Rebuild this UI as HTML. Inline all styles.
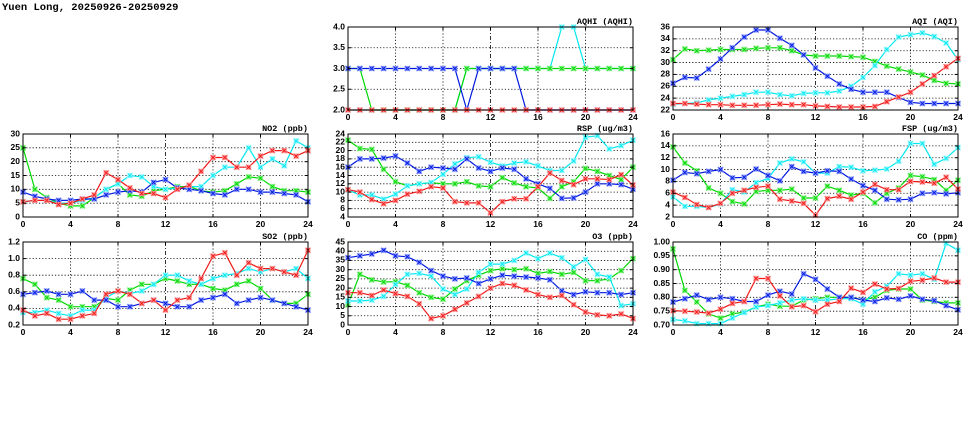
<!DOCTYPE html>
<html><head><meta charset="utf-8"><style>
html,body{margin:0;padding:0;background:#fff;width:975px;height:447px;overflow:hidden}
svg{display:block}
text{font-family:"Liberation Sans",sans-serif;font-size:8.5px;font-weight:bold;fill:#000}
.t{font-family:"Liberation Mono",monospace;font-size:8.5px}
.xl{text-anchor:middle}
.yl{text-anchor:end;dominant-baseline:middle}
.ti{text-anchor:end}
</style></head><body>
<svg id="s" width="975" height="447" viewBox="0 0 975 447">
<text x="2" y="10" style="font-family:'Liberation Mono',monospace;font-size:10.5px;font-weight:bold">Yuen Long, 20250926-20250929</text>

<g id="p0" transform="translate(348,27)"><text class="ti t" x="285" y="-3">AQHI (AQHI)</text>
<text class="yl" x="-3" y="83">2.0</text><text class="yl" x="-3" y="62.25">2.5</text><text class="yl" x="-3" y="41.5">3.0</text><text class="yl" x="-3" y="20.75">3.5</text><text class="yl" x="-3" y="0">4.0</text>
<text class="xl" x="0" y="93">0</text><text class="xl" x="47.5" y="93">4</text><text class="xl" x="95" y="93">8</text><text class="xl" x="142.5" y="93">12</text><text class="xl" x="190" y="93">16</text><text class="xl" x="237.5" y="93">20</text><text class="xl" x="285" y="93">24</text></g>

<g id="p1" transform="translate(673,27)"><text class="ti t" x="285" y="-3">AQI (AQI)</text>
<text class="yl" x="-3" y="83">22</text><text class="yl" x="-3" y="71.14">24</text><text class="yl" x="-3" y="59.29">26</text><text class="yl" x="-3" y="47.43">28</text><text class="yl" x="-3" y="35.57">30</text><text class="yl" x="-3" y="23.71">32</text><text class="yl" x="-3" y="11.86">34</text><text class="yl" x="-3" y="0">36</text>
<text class="xl" x="0" y="93">0</text><text class="xl" x="47.5" y="93">4</text><text class="xl" x="95" y="93">8</text><text class="xl" x="142.5" y="93">12</text><text class="xl" x="190" y="93">16</text><text class="xl" x="237.5" y="93">20</text><text class="xl" x="285" y="93">24</text></g>

<g id="p2" transform="translate(23,134)"><text class="ti t" x="285" y="-3">NO2 (ppb)</text>
<text class="yl" x="-3" y="83">0</text><text class="yl" x="-3" y="69.17">5</text><text class="yl" x="-3" y="55.33">10</text><text class="yl" x="-3" y="41.5">15</text><text class="yl" x="-3" y="27.67">20</text><text class="yl" x="-3" y="13.83">25</text><text class="yl" x="-3" y="0">30</text>
<text class="xl" x="0" y="93">0</text><text class="xl" x="47.5" y="93">4</text><text class="xl" x="95" y="93">8</text><text class="xl" x="142.5" y="93">12</text><text class="xl" x="190" y="93">16</text><text class="xl" x="237.5" y="93">20</text><text class="xl" x="285" y="93">24</text></g>

<g id="p3" transform="translate(348,134)"><text class="ti t" x="285" y="-3">RSP (ug/m3)</text>
<text class="yl" x="-3" y="83">4</text><text class="yl" x="-3" y="74.7">6</text><text class="yl" x="-3" y="66.4">8</text><text class="yl" x="-3" y="58.1">10</text><text class="yl" x="-3" y="49.8">12</text><text class="yl" x="-3" y="41.5">14</text><text class="yl" x="-3" y="33.2">16</text><text class="yl" x="-3" y="24.9">18</text><text class="yl" x="-3" y="16.6">20</text><text class="yl" x="-3" y="8.3">22</text><text class="yl" x="-3" y="0">24</text>
<text class="xl" x="0" y="93">0</text><text class="xl" x="47.5" y="93">4</text><text class="xl" x="95" y="93">8</text><text class="xl" x="142.5" y="93">12</text><text class="xl" x="190" y="93">16</text><text class="xl" x="237.5" y="93">20</text><text class="xl" x="285" y="93">24</text></g>

<g id="p4" transform="translate(673,134)"><text class="ti t" x="285" y="-3">FSP (ug/m3)</text>
<text class="yl" x="-3" y="83">2</text><text class="yl" x="-3" y="71.14">4</text><text class="yl" x="-3" y="59.29">6</text><text class="yl" x="-3" y="47.43">8</text><text class="yl" x="-3" y="35.57">10</text><text class="yl" x="-3" y="23.71">12</text><text class="yl" x="-3" y="11.86">14</text><text class="yl" x="-3" y="0">16</text>
<text class="xl" x="0" y="93">0</text><text class="xl" x="47.5" y="93">4</text><text class="xl" x="95" y="93">8</text><text class="xl" x="142.5" y="93">12</text><text class="xl" x="190" y="93">16</text><text class="xl" x="237.5" y="93">20</text><text class="xl" x="285" y="93">24</text></g>

<g id="p5" transform="translate(23,242)"><text class="ti t" x="285" y="-3">SO2 (ppb)</text>
<text class="yl" x="-3" y="83">0.2</text><text class="yl" x="-3" y="66.4">0.4</text><text class="yl" x="-3" y="49.8">0.6</text><text class="yl" x="-3" y="33.2">0.8</text><text class="yl" x="-3" y="16.6">1.0</text><text class="yl" x="-3" y="0">1.2</text>
<text class="xl" x="0" y="93">0</text><text class="xl" x="47.5" y="93">4</text><text class="xl" x="95" y="93">8</text><text class="xl" x="142.5" y="93">12</text><text class="xl" x="190" y="93">16</text><text class="xl" x="237.5" y="93">20</text><text class="xl" x="285" y="93">24</text></g>

<g id="p6" transform="translate(348,242)"><text class="ti t" x="285" y="-3">O3 (ppb)</text>
<text class="yl" x="-3" y="83">0</text><text class="yl" x="-3" y="73.78">5</text><text class="yl" x="-3" y="64.56">10</text><text class="yl" x="-3" y="55.33">15</text><text class="yl" x="-3" y="46.11">20</text><text class="yl" x="-3" y="36.89">25</text><text class="yl" x="-3" y="27.67">30</text><text class="yl" x="-3" y="18.44">35</text><text class="yl" x="-3" y="9.22">40</text><text class="yl" x="-3" y="0">45</text>
<text class="xl" x="0" y="93">0</text><text class="xl" x="47.5" y="93">4</text><text class="xl" x="95" y="93">8</text><text class="xl" x="142.5" y="93">12</text><text class="xl" x="190" y="93">16</text><text class="xl" x="237.5" y="93">20</text><text class="xl" x="285" y="93">24</text></g>

<g id="p7" transform="translate(673,242)"><text class="ti t" x="285" y="-3">CO (ppm)</text>
<text class="yl" x="-3" y="83">0.70</text><text class="yl" x="-3" y="69.17">0.75</text><text class="yl" x="-3" y="55.33">0.80</text><text class="yl" x="-3" y="41.5">0.85</text><text class="yl" x="-3" y="27.67">0.90</text><text class="yl" x="-3" y="13.83">0.95</text><text class="yl" x="-3" y="0">1.00</text>
<text class="xl" x="0" y="93">0</text><text class="xl" x="47.5" y="93">4</text><text class="xl" x="95" y="93">8</text><text class="xl" x="142.5" y="93">12</text><text class="xl" x="190" y="93">16</text><text class="xl" x="237.5" y="93">20</text><text class="xl" x="285" y="93">24</text></g>
</svg>
<script>
var W=285,H=83,NS="http://www.w3.org/2000/svg";
var C={g:["#00d800","#80f080"],c:["#00e8f0","#90f8ff"],b:["#0018e0","#8090ff"],r:["#f01818","#ff9090"]};
var P=[
{min:2,max:4,n:4,order:["c","g","b","r"],d:{
c:[2,2,2,2,2,2,2,2,2,2,3,3,3,3,3,3,3,3,4,4,3,3,3,3,3],
g:[3,3,2,2,2,2,2,2,2,2,3,3,3,3,3,3,3,3,3,3,3,3,3,3,3],
b:[3,3,3,3,3,3,3,3,3,3,2,3,3,3,3,2,2,2,2,2,2,2,2,2,2],
r:[2,2,2,2,2,2,2,2,2,2,2,2,2,2,2,2,2,2,2,2,2,2,2,2,2]}},
{min:22,max:36,n:7,order:["g","c","b","r"],d:{
g:[30.5,32.3,32,32.1,32.2,32.2,32.2,32.4,32.5,32.5,32,31.3,31.1,31.1,31.1,31,30.9,30.2,29.4,28.9,28.4,27.9,27,26.5,26.4],
c:[23,23.1,23.2,23.7,24,24.3,24.6,25,25,24.6,24.4,24.8,24.9,24.9,25.2,26,27.5,29.5,32.2,34.3,34.7,35,34.4,33.3,30.5],
b:[26.5,27.5,27.4,28.9,30.6,32.5,34.3,35.5,35.5,34.1,32.9,31.3,29.1,27.7,26.4,25.5,25,25,25,24.1,23.3,23.1,23.1,23.1,23.1],
r:[23.1,23.1,23,22.9,22.9,22.8,22.8,22.8,22.9,23,22.9,22.9,22.7,22.6,22.5,22.5,22.5,22.6,23.4,24.2,25,26.4,27.8,29.3,30.7]}},
{min:0,max:30,n:6,order:["g","c","b","r"],d:{
g:[25,10,7,5,4,4,7,10,12,8,7.5,9.5,10,11,11,9.5,9,9.5,12,14.5,14,11,9.5,9.5,9],
c:[5.5,6,6,5,5,6,7,10,12,15,14.5,11,10,10.5,11,11,15,18,18,25,18,21,18.5,27.5,25],
b:[9,7.5,6.5,6,6,6.5,6.5,8,9,9.5,9,12.5,13.5,10.5,10,9.5,8.5,8,10,10,9,9,8.5,8,5.5],
r:[5.5,6,6,4.5,5,6.5,8,16,13.5,10.5,8.5,8.5,7,10,11.5,16.5,21.5,21.5,18,18,22,24,24,22,24]}},
{min:4,max:24,n:10,order:["g","c","b","r"],d:{
g:[22.5,20.5,20.3,15.5,12.5,11.5,12,12.3,12,12,12.5,11.5,11.3,13.5,12.2,11.3,11,8.5,11.3,12.5,15.7,15,14,13,16],
c:[10.5,9.3,9.3,8.3,9.5,11.5,12,12.3,14.3,16.8,18.3,18.5,17.2,16.3,17,17.3,16.3,15.2,15.2,17.5,23.2,23.6,20.4,21.2,22.5],
b:[16,18,18,18.2,18.7,17,15,16,15.8,15.5,18,15.8,15,15.8,15.5,13.2,12,10.9,8.5,8.6,10,12,12,11.8,10.7],
r:[10.6,10,8.2,7.2,8,9.5,10.2,11.3,11,7.7,7.4,7.4,5,7.7,8.4,8.4,11.3,14.6,12.8,11.8,13.2,13.2,13,14.2,11.7]}},
{min:2,max:16,n:7,order:["g","c","b","r"],d:{
g:[13.8,11.1,9.8,6.9,6,4.6,4.2,6.3,6.5,6.5,6.7,5.2,5.2,7.2,6.5,5.7,6,4.4,6,6.9,9,8.8,8.3,6.5,8.2],
c:[5.4,3.8,3.8,3.6,4.2,6.6,6.2,7.8,8.5,11.1,11.8,11.3,9.4,9.4,10.5,10.4,9.8,9.9,10.1,11.4,14.4,14.4,10.9,11.9,13.7],
b:[8.2,9.5,9.3,9.7,10,8.6,8.7,10.1,9,8.1,10.5,9.7,9.4,9.8,9.7,8.4,7.3,6.5,5,4.9,5,6,6.1,5.9,6.1],
r:[6.2,5.3,4.1,3.6,4.3,6,6.5,7,7.2,5,4.7,4.3,2.3,5.1,5.5,5,6.2,7.5,6.6,6.6,8,7.9,7.7,8.7,6.7]}},
{min:0.2,max:1.2,n:5,order:["g","c","b","r"],d:{
g:[.76,.69,.53,.5,.42,.42,.42,.52,.5,.62,.69,.69,.76,.73,.69,.69,.64,.62,.69,.73,.64,.5,.46,.46,.57],
c:[.35,.35,.38,.34,.31,.38,.38,.53,.61,.58,.61,.69,.8,.8,.73,.69,.76,.8,.82,.88,.84,.88,.84,.88,.76],
b:[.57,.59,.61,.57,.57,.61,.5,.5,.42,.42,.46,.5,.46,.42,.42,.5,.53,.57,.46,.5,.53,.5,.46,.42,.38],
r:[.38,.31,.34,.27,.27,.31,.34,.57,.61,.57,.46,.5,.38,.5,.53,.76,1.03,1.07,.8,.95,.88,.88,.84,.8,1.1]}},
{min:0,max:45,n:9,order:["g","c","b","r"],d:{
g:[11,27.5,24.5,23.3,23.5,21.5,17.5,15,14,19.5,24,27,29.5,30.5,30,30.5,28,29,27.5,28.5,24,24,25,29.5,36],
c:[13,13,13.5,15.5,22,27.5,28,26.5,19.5,16.5,19.5,28.5,33,33,35,39,36,39,36.5,31.5,35.5,27.5,26,10.5,11.5],
b:[36.5,37.5,38.5,40.5,37.5,37,34,29.5,26.5,25,25.5,22.5,25,27,26.5,26,25.5,24.5,18.5,16.5,18,17.5,17.5,16.5,17.5],
r:[17.5,17.5,16,19,17,15.5,11.5,3.5,5,8.5,12,15.5,20,22.5,21.5,19,16.5,15,16,11,7,5.5,5,6,3.5]}},
{min:0.7,max:1.0,n:6,order:["g","c","b","r"],d:{
g:[.975,.825,.783,.74,.725,.74,.747,.765,.775,.768,.768,.79,.795,.8,.8,.8,.79,.8,.825,.83,.83,.79,.785,.78,.78],
c:[.72,.715,.705,.705,.705,.725,.745,.765,.77,.78,.79,.795,.79,.79,.795,.795,.775,.82,.84,.885,.88,.885,.865,.995,.97],
b:[.783,.795,.808,.792,.8,.795,.785,.785,.808,.822,.812,.885,.865,.83,.8,.8,.79,.785,.798,.793,.805,.793,.788,.77,.755],
r:[.752,.75,.747,.743,.757,.778,.785,.868,.868,.805,.766,.77,.748,.775,.785,.833,.818,.848,.83,.832,.858,.862,.87,.855,.855]}}
];
function el(t,a,p){var e=document.createElementNS(NS,t);for(var k in a)e.setAttribute(k,a[k]);p.appendChild(e);return e;}
P.forEach(function(p,i){
 var g=document.getElementById("p"+i);
 var gg=el("g",{},g);
 for(var k=1;k<p.n;k++){var y=H-k*H/p.n;el("line",{x1:0,x2:W,y1:y,y2:y,stroke:"#000","stroke-width":0.8,"stroke-dasharray":"1.2,2"},gg);}
 for(var k=1;k<6;k++){var x=k*W/6;el("line",{x1:x,x2:x,y1:0,y2:H,stroke:"#000","stroke-width":0.8,"stroke-dasharray":k==3?"4,2,1,2":"1.2,2"},gg);}
 p.order.forEach(function(s){
  var d=p.d[s],pts=d.map(function(v,h){return [h*W/24,H-(v-p.min)/(p.max-p.min)*H];});
  el("polyline",{points:pts.map(function(q){return q[0].toFixed(1)+","+q[1].toFixed(1)}).join(" "),fill:"none",stroke:C[s][0],"stroke-width":1.2},g);
  pts.forEach(function(q){
   var x=q[0],y=q[1],r=2.6;
   el("path",{d:"M"+(x-r)+","+(y-r)+"L"+(x+r)+","+(y+r)+"M"+(x-r)+","+(y+r)+"L"+(x+r)+","+(y-r)+"M"+(x-r)+","+y+"L"+(x+r)+","+y+"M"+x+","+(y-r)+"L"+x+","+(y+r),stroke:C[s][1],"stroke-width":1.6},g);
   el("path",{d:"M"+(x-1.8)+","+(y-1.8)+"L"+(x+1.8)+","+(y+1.8)+"M"+(x-1.8)+","+(y+1.8)+"L"+(x+1.8)+","+(y-1.8),stroke:C[s][0],"stroke-width":0.9},g);
  });
 });
 el("rect",{x:0,y:0,width:W,height:H,fill:"none",stroke:"#000","stroke-width":1},g);
 for(var k=0;k<=6;k++){var x=k*W/6;el("line",{x1:x,x2:x,y1:H,y2:H-3,stroke:"#000"},g);el("line",{x1:x,x2:x,y1:0,y2:3,stroke:"#000"},g);}
 for(var k=0;k<=p.n;k++){var y=H-k*H/p.n;el("line",{x1:0,x2:3,y1:y,y2:y,stroke:"#000"},g);el("line",{x1:W,x2:W-3,y1:y,y2:y,stroke:"#000"},g);}
});
</script>
</body></html>
